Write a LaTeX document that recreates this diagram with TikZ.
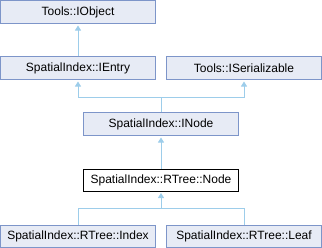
\documentclass[tikz,border=0pt]{standalone}
\usepackage{fontspec}
\setmainfont{Liberation Sans}
\usetikzlibrary{arrows.meta}
\definecolor{boxfill}{HTML}{E7EBF5}
\definecolor{boxdraw}{HTML}{7D95C9}
\definecolor{edgecol}{HTML}{9DCDEA}
\begin{document}
\begin{tikzpicture}[x=1bp,y=-1bp,
  cls/.style={draw=boxdraw,fill=boxfill,line width=1bp,minimum width=155bp,minimum height=23bp,inner sep=0pt,font=\fontsize{12bp}{14bp}\selectfont},
  cur/.style={cls,draw=black,fill=white},
  line/.style={draw=edgecol,line width=1bp},
  edge/.style={line,-{Triangle[width=6bp,length=5bp]},shorten >=1.5bp}]
\useasboundingbox (0,0) rectangle (322,248);
\node[cls] (IObject) at (78,12) {Tools::IObject};
\node[cls] (IEntry) at (78,68) {SpatialIndex::IEntry};
\node[cls] (ISer) at (244,68) {Tools::ISerializable};
\node[cls] (INode) at (161,124) {SpatialIndex::INode};
\node[cur,minimum height=22bp] (Node) at (161,180) {SpatialIndex::RTree::Node};
\node[cls,minimum height=22bp] (Index) at (78,236.5) {SpatialIndex::RTree::Index};
\node[cls,minimum height=22bp] (Leaf) at (244,236.5) {SpatialIndex::RTree::Leaf};
\coordinate (jn) at (161,97);
\coordinate (js) at (161,208);
\draw[edge] (IEntry.north) -- (IObject.south);
\draw[edge] (INode.north) -- (jn) -| (IEntry.south);
\draw[edge] (jn) -| (ISer.south);
\draw[edge] (Node.north) -- (INode.south);
\draw[edge] (Index.north) |- (js) -- (Node.south);
\draw[line] (Leaf.north) |- (js);
\end{tikzpicture}
\end{document}
